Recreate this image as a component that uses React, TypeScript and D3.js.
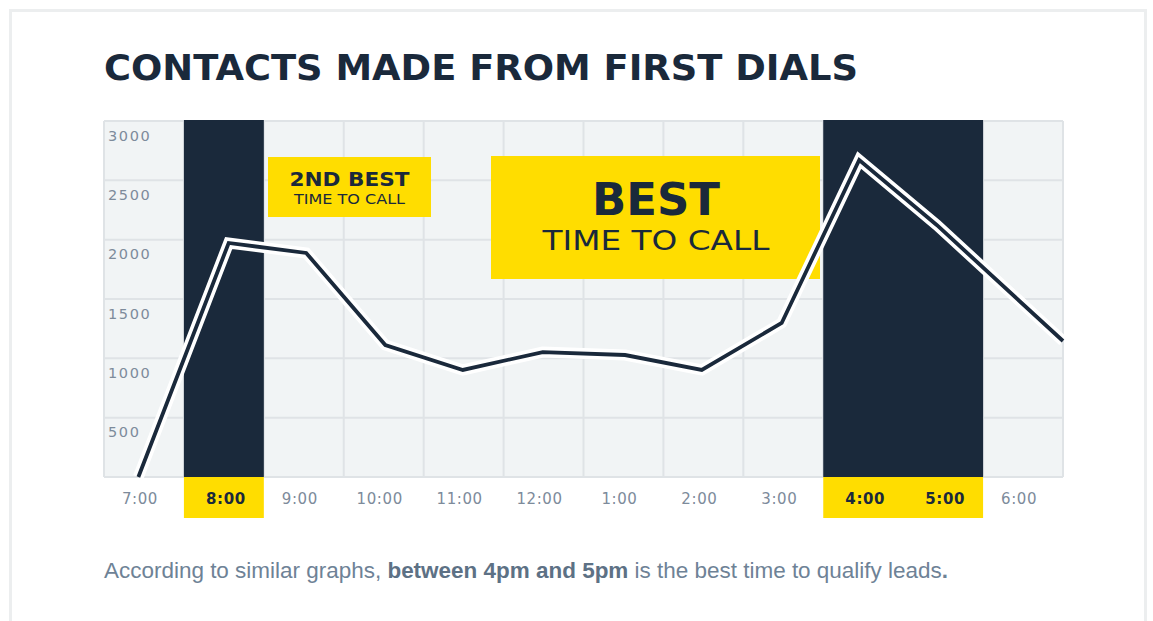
import React from "react";
import * as d3 from "d3";

const hourLabels = ["7:00", "8:00", "9:00", "10:00", "11:00", "12:00", "1:00", "2:00", "3:00", "4:00", "5:00", "6:00"];
const columnStart = [7, 8, 9, 10, 11, 12, 13, 14, 15, 16, 17, 18];
const highlightedHours = ["8:00", "4:00", "5:00"];
const bestBands = [
  { from: 8, to: 9 },
  { from: 16, to: 18 },
];
const sampleHour = [7.43, 8.56, 9.53, 10.52, 11.49, 12.49, 13.52, 14.48, 15.48, 16.45, 17.42, 19.0];
const contacts = [0, 1972, 1888, 1112, 902, 1053, 1028, 902, 1298, 2671, 2124, 1146];
const yTicks = [500, 1000, 1500, 2000, 2500, 3000];
const yGrid = [0, 500, 1000, 1500, 2000, 2500, 3000];

const NAVY = "#1a293b";
const YELLOW = "#ffdd00";
const PLOT_BG = "#f1f4f5";
const GRID = "#dfe3e6";
const AXIS_TEXT = "#7d8b9b";

export default function App() {
  const W = 1153;
  const H = 621;
  const left = 104;
  const right = 1063;
  const top = 121;
  const bottom = 477;

  const x = d3.scaleLinear().domain([7, 19]).range([left, right]);
  const y = d3.scaleLinear().domain([0, 3000]).range([bottom, top]);

  const points: [number, number][] = sampleHour.map((h, i) => [x(h), y(contacts[i])]);
  const line = d3.line<[number, number]>().x((d) => d[0]).y((d) => d[1]);
  const path = line(points) || "";

  return (
    <svg
      width={W}
      height={H}
      style={{ position: "absolute", left: 0, top: 0, display: "block" }}
    >
      <rect x={0} y={0} width={W} height={H} fill="#ffffff" />
      <rect x={10.5} y={10.5} width={1135} height={640} fill="#ffffff" stroke="#eceeef" strokeWidth={3} />

      <text
        x={104}
        y={80}
        fontFamily="'DejaVu Sans', sans-serif"
        fontWeight="bold"
        fontSize={36}
        fill={NAVY}
        textLength={754}
        lengthAdjust="spacingAndGlyphs"
      >
        CONTACTS MADE FROM FIRST DIALS
      </text>

      {/* plot background */}
      <rect x={left} y={top} width={right - left} height={bottom - top} fill={PLOT_BG} />

      {/* horizontal grid */}
      {yGrid.map((v) => (
        <line key={"h" + v} x1={left} x2={right} y1={y(v)} y2={y(v)} stroke={GRID} strokeWidth={2} />
      ))}
      {/* vertical grid */}
      {[...columnStart, 19].map((h) => (
        <line key={"v" + h} x1={x(h)} x2={x(h)} y1={top} y2={bottom} stroke={GRID} strokeWidth={2} />
      ))}

      {/* best time bands */}
      {bestBands.map((b, i) => (
        <g key={"band" + i}>
          <rect x={x(b.from)} y={top - 1} width={x(b.to) - x(b.from)} height={bottom - top + 1} fill={NAVY} />
          <rect x={x(b.from)} y={bottom} width={x(b.to) - x(b.from)} height={41} fill={YELLOW} />
        </g>
      ))}

      {/* y labels */}
      {yTicks.map((v) => (
        <text
          key={"yl" + v}
          x={108}
          y={y(v) + 19.5}
          fontFamily="'DejaVu Sans', sans-serif"
          fontSize={14.5}
          letterSpacing={1.6}
          fill={AXIS_TEXT}
        >
          {v}
        </text>
      ))}

      {/* x labels */}
      {hourLabels.map((lab, i) => {
        const hl = highlightedHours.includes(lab);
        return (
          <text
            key={"xl" + lab}
            x={x(columnStart[i] + 0.5) + (hl ? 2 : -4)}
            y={504}
            textAnchor="middle"
            fontFamily="'DejaVu Sans', sans-serif"
            fontSize={15}
            fontWeight={hl ? "bold" : "normal"}
            letterSpacing={0.6}
            fill={hl ? NAVY : AXIS_TEXT}
          >
            {lab}
          </text>
        );
      })}

      {/* annotation boxes */}
      <rect x={268} y={157} width={163} height={60} fill={YELLOW} />
      <text x={349.5} y={186} textAnchor="middle" fontFamily="'DejaVu Sans', sans-serif" fontWeight="bold" fontSize={19} fill={NAVY} textLength={120} lengthAdjust="spacingAndGlyphs">
        2ND BEST
      </text>
      <text x={349.5} y={203.5} textAnchor="middle" fontFamily="'DejaVu Sans', sans-serif" fontSize={13.5} fill={NAVY} textLength={111} lengthAdjust="spacingAndGlyphs">
        TIME TO CALL
      </text>

      <rect x={491} y={156} width={329} height={123} fill={YELLOW} />
      <text x={656} y={215} textAnchor="middle" fontFamily="'DejaVu Sans', sans-serif" fontWeight="bold" fontSize={44} fill={NAVY} textLength={128} lengthAdjust="spacingAndGlyphs">
        BEST
      </text>
      <text x={656} y={249.5} textAnchor="middle" fontFamily="'DejaVu Sans', sans-serif" fontSize={27} fill={NAVY} textLength={227} lengthAdjust="spacingAndGlyphs">
        TIME TO CALL
      </text>

      {/* line with white halo */}
      <path d={path} fill="none" stroke="#ffffff" strokeWidth={11} strokeLinejoin="miter" strokeMiterlimit={10} />
      <path d={path} fill="none" stroke={NAVY} strokeWidth={3.8} strokeLinejoin="miter" strokeMiterlimit={10} />

      {/* caption */}
      <text
        x={104}
        y={578}
        fontFamily="'Liberation Sans Narrow', 'Liberation Sans', sans-serif"
        fontSize={22}
        fill="#6e8296"
        textLength={844}
        lengthAdjust="spacingAndGlyphs"
      >
        According to similar graphs, <tspan fontWeight="bold" fill="#5d7185">between 4pm and 5pm</tspan> is the best time to qualify leads<tspan fontWeight="bold">.</tspan>
      </text>
    </svg>
  );
}
